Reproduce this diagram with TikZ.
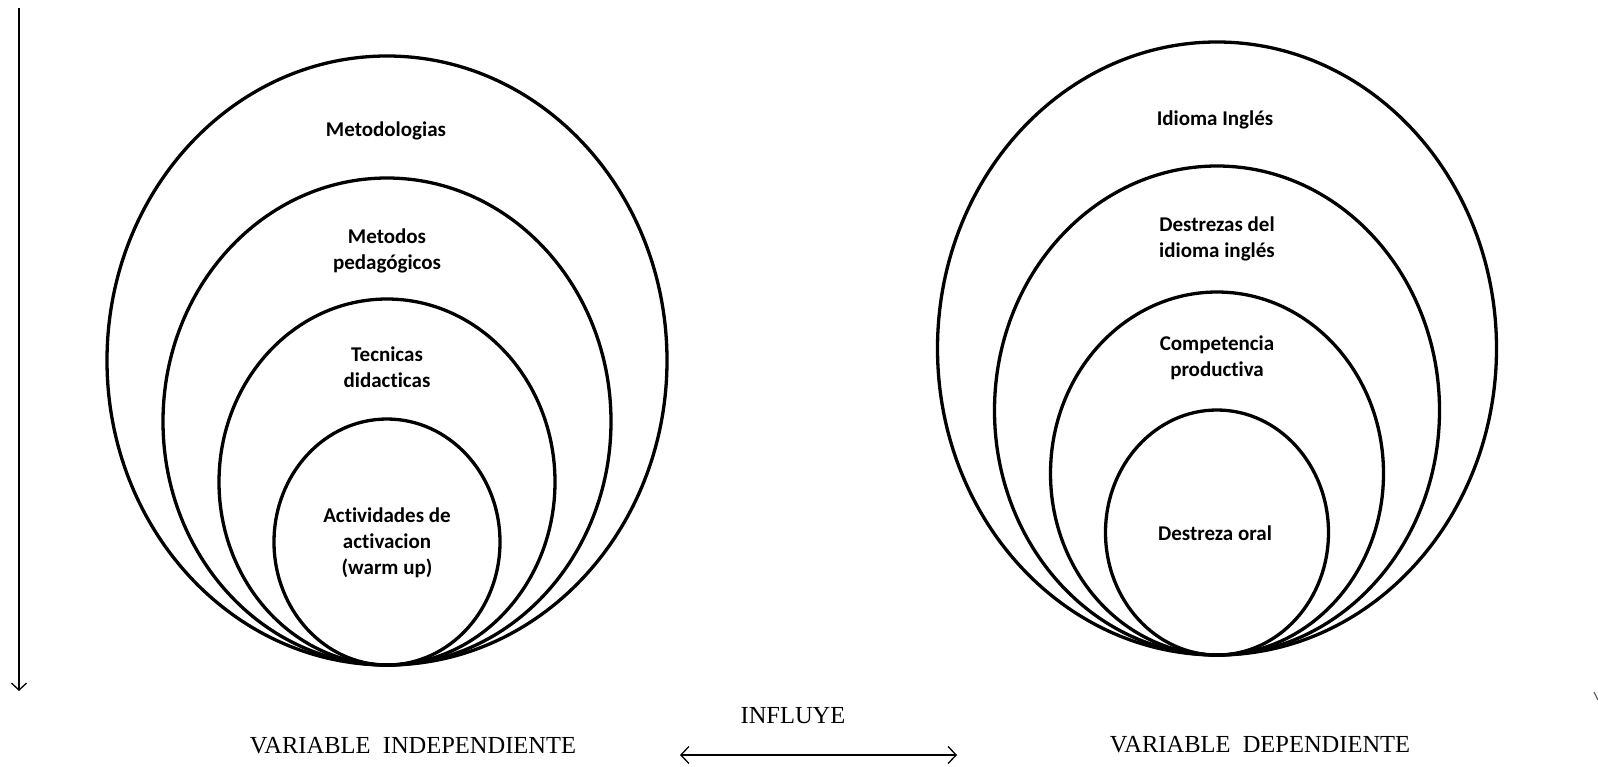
\documentclass[tikz,border=0pt]{standalone}
\usepackage{fontspec}
\setmainfont{Liberation Serif}
\newfontfamily\calibrifont[Ligatures=NoCommon]{Carlito}
\usetikzlibrary{arrows.meta}
\tikzset{
  ring/.style={line width=3.3pt, draw=black},
  lbl/.style={font=\calibrifont\bfseries\fontsize{21}{26}\selectfont, align=center, inner sep=0pt, text=black},
  captxt/.style={font=\fontsize{24.5}{28}\selectfont, inner sep=0pt, text=black},
  thinarrow/.style={line width=1.3pt, -{Straight Barb[length=7pt,width=15pt,line width=1.3pt]}},
  dblarrow/.style={line width=1.3pt, {Straight Barb[length=8pt,width=17pt,line width=1.3pt]}-{Straight Barb[length=8pt,width=17pt,line width=1.3pt]}}
}
\begin{document}
\begin{tikzpicture}[x=1pt,y=-1pt]
\useasboundingbox[fill=white] (0,0) rectangle (1598,766);
% left set
\draw[ring] (387,665) ++(0,-304.5) ellipse [x radius=280pt, y radius=304.5pt];
\draw[ring] (387,665) ++(0,-243.5) ellipse [x radius=224pt, y radius=243.5pt];
\draw[ring] (387,665) ++(0,-183) ellipse [x radius=168pt, y radius=183pt];
\draw[ring] (387,665) ++(0,-123) ellipse [x radius=113pt, y radius=123pt];
% right set
\draw[ring] (1217,655) ++(0,-306.5) ellipse [x radius=279.5pt, y radius=306.5pt];
\draw[ring] (1217,655) ++(0,-244.5) ellipse [x radius=222.5pt, y radius=244.5pt];
\draw[ring] (1217,655) ++(0,-181.5) ellipse [x radius=166.5pt, y radius=181.5pt];
\draw[ring] (1217,655) ++(0,-122.5) ellipse [x radius=111.5pt, y radius=122.5pt];
% labels left
\node[lbl] (metodologias) at (386,131) {Metodologias};
\node[lbl] (metodos) at (387,251) {Metodos\\pedagógicos};
\node[lbl] (tecnicas) at (387,367) {Tecnicas\\didacticas};
\node[lbl] (actividades) at (387,543) {Actividades de\\activacion\\(warm up)};
% labels right
\node[lbl] (idioma) at (1215,120) {Idioma Inglés};
\node[lbl] (destrezas) at (1217,239) {Destrezas del\\idioma inglés};
\node[lbl] (competencia) at (1217,358) {Competencia\\productiva};
\node[lbl] (oral) at (1215,533) {Destreza oral};
% bottom captions
\node[captxt] (vindep) at (413,746) {VARIABLE\ \ INDEPENDIENTE};
\node[captxt] (influye) at (793,716) {INFLUYE};
\node[captxt] (vdep) at (1260,745) {VARIABLE\ \ DEPENDIENTE};
% arrows
\coordinate (vtop) at (19,8);
\coordinate (vbot) at (19,691);
\draw[thinarrow] (vtop) -- (vbot);
\coordinate (al) at (680,755);
\coordinate (ar) at (957,755);
\draw[dblarrow] (al) -- (ar);
\coordinate (tka) at (1594,692);
\coordinate (tkb) at (1598,700);
\draw[line width=1.2pt, black!60] (tka) -- (tkb);
\end{tikzpicture}
\end{document}
